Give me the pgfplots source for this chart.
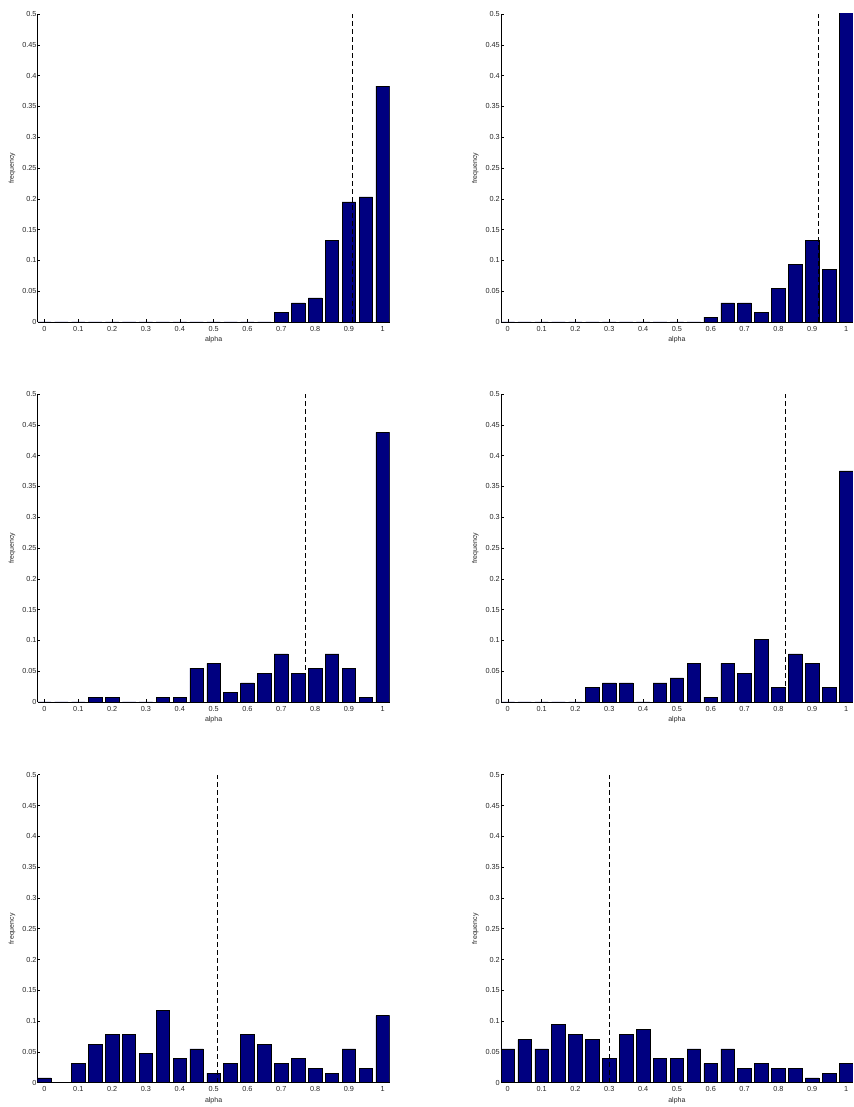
\documentclass[border=0pt]{standalone}
\usepackage{fontspec}
\setmainfont{Liberation Sans}
\usepackage{pgfplots}
\usepackage{pgfplotstable}
\pgfplotsset{compat=1.18}
\definecolor{barnavy}{RGB}{0,0,128}

\pgfplotstableread{
x    a       b       c       d       e       f
0    0       0       0       0       0.0078  0.055
0.05 0       0       0       0       0       0.070
0.1  0       0       0       0       0.031   0.055
0.15 0       0       0.0078  0       0.0625  0.094
0.2  0       0       0.0078  0       0.078   0.078
0.25 0       0       0       0.0234  0.078   0.070
0.3  0       0       0       0.031   0.047   0.039
0.35 0       0       0.0078  0.031   0.117   0.078
0.4  0       0       0.0078  0       0.039   0.086
0.45 0       0       0.055   0.031   0.055   0.039
0.5  0       0       0.0625  0.039   0.0156  0.039
0.55 0       0       0.0156  0.0625  0.031   0.055
0.6  0       0.0078  0.031   0.0078  0.078   0.031
0.65 0       0.031   0.047   0.0625  0.0625  0.055
0.7  0.0156  0.031   0.078   0.047   0.031   0.0234
0.75 0.031   0.0156  0.047   0.102   0.039   0.031
0.8  0.039   0.055   0.055   0.0234  0.0234  0.0234
0.85 0.133   0.094   0.078   0.078   0.0156  0.0234
0.9  0.195   0.133   0.055   0.0625  0.055   0.0078
0.95 0.203   0.086   0.0078  0.0234  0.0234  0.0156
1    0.383   0.547   0.4375  0.375   0.109   0.031
}\histdata

\pgfplotsset{
  hstyle/.style={
    width=351.8pt, height=308pt, scale only axis,
    anchor=south west,
    xmin=-0.02, xmax=1.02, ymin=0, ymax=0.5,
    enlargelimits=false,
    axis lines*=left,
    axis line style={black, line width=0.5pt},
    tick align=inside, major tick length=2.5pt,
    tick style={black, line width=0.5pt},
    xtick={0,0.1,0.2,0.3,0.4,0.5,0.6,0.7,0.8,0.9,1},
    ytick={0,0.05,0.1,0.15,0.2,0.25,0.3,0.35,0.4,0.45,0.5},
    scaled ticks=false,
    /pgf/number format/.cd, fixed, precision=2, assume math mode=true,
    /pgfplots/.cd,
    tick label style={font=\fontsize{7.3}{8}\selectfont, text=black!85, inner sep=1pt},
    xticklabel style={yshift=-3pt},
    xlabel=alpha, ylabel=frequency,
    label style={font=\fontsize{7}{8}\selectfont, text=black!85},
    xlabel style={at={(axis description cs:0.5,-0.058)}, anchor=center},
    ylabel style={at={(axis description cs:-0.073,0.5)}, anchor=center},
  },
  hbar/.style={ybar, bar width=0.04, fill=barnavy, draw=black, line width=0.6pt},
  hdash/.style={black, line width=0.6pt, dash pattern=on 5pt off 3pt},
}

\begin{document}
\begin{tikzpicture}[x=1pt,y=1pt]
\useasboundingbox (0,0) rectangle (853,1107);

\begin{axis}[hstyle, at={(37.7pt,785pt)}]
\addplot[hbar] table[x=x,y=a] {\histdata};
\addplot[hdash] coordinates {(0.91,0) (0.91,0.5)};
\end{axis}

\begin{axis}[hstyle, at={(501pt,785pt)}]
\addplot[hbar] table[x=x,y=b] {\histdata};
\addplot[hdash] coordinates {(0.919,0) (0.919,0.5)};
\end{axis}

\begin{axis}[hstyle, at={(37.7pt,405pt)}]
\addplot[hbar] table[x=x,y=c] {\histdata};
\addplot[hdash] coordinates {(0.77,0) (0.77,0.5)};
\end{axis}

\begin{axis}[hstyle, at={(501pt,405pt)}]
\addplot[hbar] table[x=x,y=d] {\histdata};
\addplot[hdash] coordinates {(0.82,0) (0.82,0.5)};
\end{axis}

\begin{axis}[hstyle, at={(37.7pt,24.3pt)}]
\addplot[hbar] table[x=x,y=e] {\histdata};
\addplot[hdash] coordinates {(0.51,0) (0.51,0.5)};
\end{axis}

\begin{axis}[hstyle, at={(501pt,24.3pt)}]
\addplot[hbar] table[x=x,y=f] {\histdata};
\addplot[hdash] coordinates {(0.30,0) (0.30,0.5)};
\end{axis}
\end{tikzpicture}
\end{document}
